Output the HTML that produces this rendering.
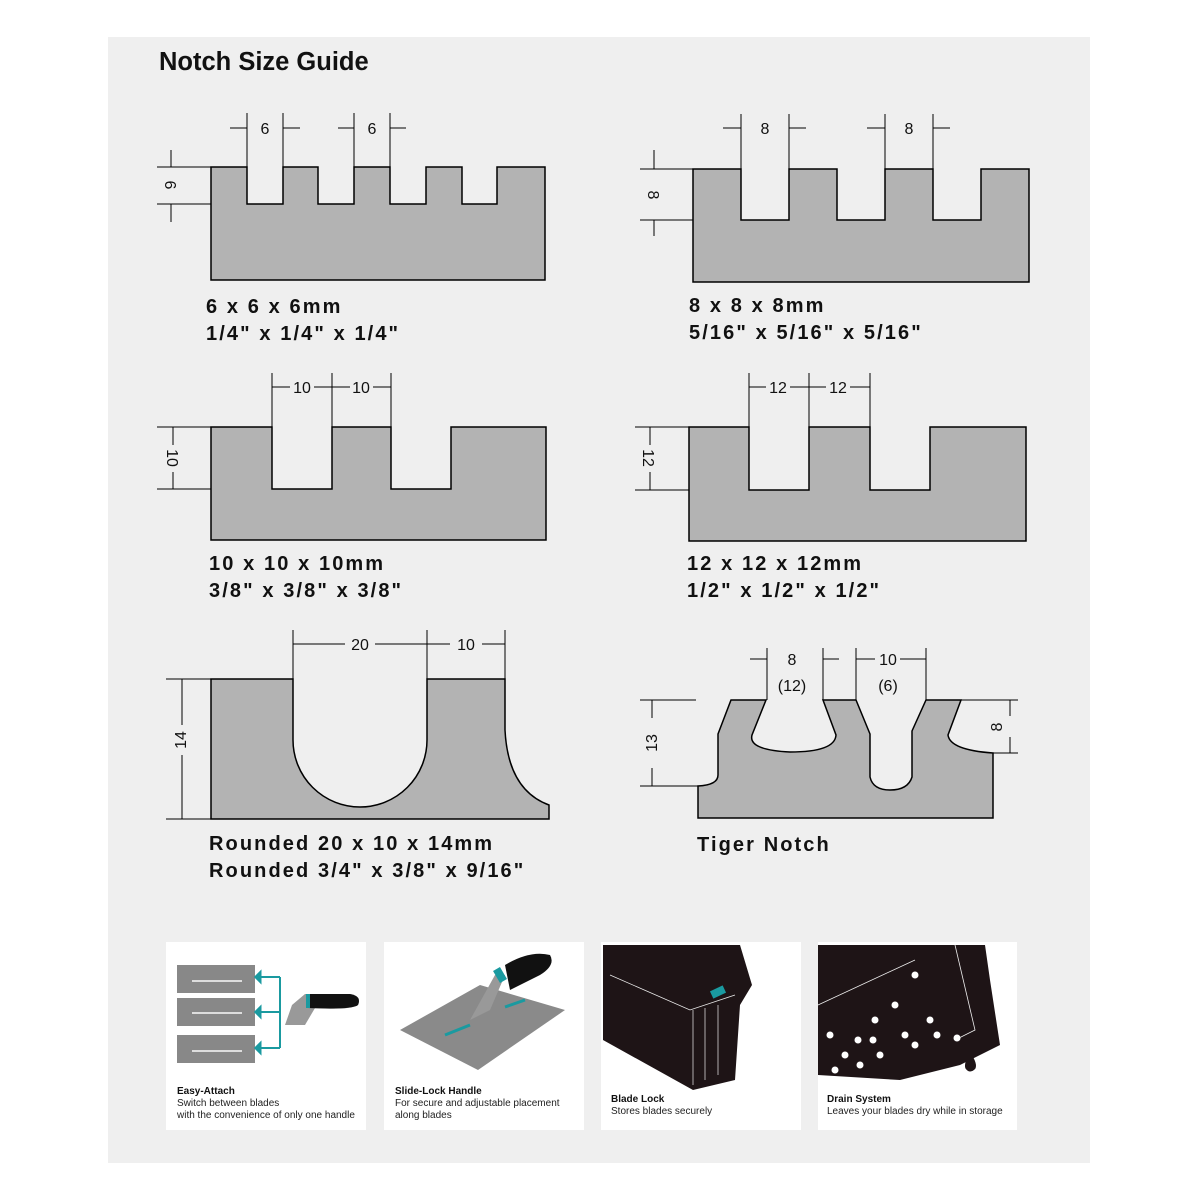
<!DOCTYPE html>
<html><head><meta charset="utf-8"><style>
body{margin:0;background:#fff;}
svg{display:block;font-family:"Liberation Sans",Arial,sans-serif;}
.s{fill:#b3b3b3;stroke:#000;stroke-width:1.5}
.d{stroke:#000;stroke-width:1;fill:none}
.t{font-size:16px;fill:#111}
.h{font-size:20px;font-weight:bold;fill:#111;letter-spacing:2.1px}
.c1{font-size:10px;font-weight:bold;fill:#111}
.c2{font-size:10px;fill:#222}
</style></head><body>
<svg width="1200" height="1200" viewBox="0 0 1200 1200">
<rect x="108" y="37" width="982" height="1126" fill="#efefef"/>
<text x="159" y="70" font-size="25.5" font-weight="bold" fill="#111">Notch Size Guide</text>

<!-- D1 -->
<path class="s" d="M211,167H247V204H283V167H318V204H354V167H390V204H426V167H462V204H497V167H545V280H211Z"/>
<path class="d" d="M247,113V167M283,113V167M354,113V167M390,113V167M230,128H247M283,128H300M338,128H354M390,128H406M157,167H211M157,204H211M171,150V167M171,204V222"/>
<text class="t" x="265" y="134" text-anchor="middle">6</text>
<text class="t" x="372" y="134" text-anchor="middle">6</text>
<text class="t" transform="translate(165,185) rotate(90)" text-anchor="middle">6</text>
<text class="h" x="206" y="313">6 x 6 x 6mm</text>
<text class="h" x="206" y="340">1/4" x 1/4" x 1/4"</text>

<!-- D2 -->
<path class="s" d="M693,169H741V220H789V169H837V220H885V169H933V220H981V169H1029V282H693Z"/>
<path class="d" d="M741,114V169M789,114V169M885,114V169M933,114V169M723,128H741M789,128H806M867,128H885M933,128H950M640,169H693M640,220H693M654,150V169M654,220V236"/>
<text class="t" x="765" y="134" text-anchor="middle">8</text>
<text class="t" x="909" y="134" text-anchor="middle">8</text>
<text class="t" transform="translate(648,195) rotate(90)" text-anchor="middle">8</text>
<text class="h" x="689" y="312">8 x 8 x 8mm</text>
<text class="h" x="689" y="339">5/16" x 5/16" x 5/16"</text>

<!-- D3 -->
<path class="s" d="M211,427H272V489H332V427H391V489H451V427H546V540H211Z"/>
<path class="d" d="M272,373V427M332,373V427M391,373V427M272,387H290M314,387H350M373,387H391M157,427H211M157,489H211M173,427V445M173,472V489"/>
<text class="t" x="302" y="393" text-anchor="middle">10</text>
<text class="t" x="361" y="393" text-anchor="middle">10</text>
<text class="t" transform="translate(167,458) rotate(90)" text-anchor="middle">10</text>
<text class="h" x="209" y="570">10 x 10 x 10mm</text>
<text class="h" x="209" y="597">3/8" x 3/8" x 3/8"</text>

<!-- D4 -->
<path class="s" d="M689,427H749V490H809V427H870V490H930V427H1026V541H689Z"/>
<path class="d" d="M749,373V427M809,373V427M870,373V427M749,387H766M790,387H826M850,387H870M635,427H689M635,490H689M650,427V445M650,472V490"/>
<text class="t" x="778" y="393" text-anchor="middle">12</text>
<text class="t" x="838" y="393" text-anchor="middle">12</text>
<text class="t" transform="translate(643,458) rotate(90)" text-anchor="middle">12</text>
<text class="h" x="687" y="570">12 x 12 x 12mm</text>
<text class="h" x="687" y="597">1/2" x 1/2" x 1/2"</text>

<!-- D5 -->
<path class="s" d="M211,679H293V740A67,67 0 0 0 427,740V679H505V730Q508,790 549,805V819H211Z"/>
<path class="d" d="M293,630V679M427,630V679M505,630V679M293,644H345M375,644H450M482,644H505M166,679H211M166,819H211M182,679V725M182,755V819"/>
<text class="t" x="360" y="650" text-anchor="middle">20</text>
<text class="t" x="466" y="650" text-anchor="middle">10</text>
<text class="t" transform="translate(186,740) rotate(-90)" text-anchor="middle">14</text>
<text class="h" x="209" y="850">Rounded 20 x 10 x 14mm</text>
<text class="h" x="209" y="877">Rounded 3/4" x 3/8" x 9/16"</text>

<!-- D6 -->
<path class="s" d="M698,818V786Q718,785 718,775V734L731,700H766L752,735Q748,750 790,752Q835,752 836,735L823,700H856L870,734V777Q873,790 890,790Q908,790 912,777V731L926,700H961L948,735Q950,750 993,753V818Z"/>
<path class="d" d="M767,648V700M823,648V700M856,648V700M926,648V700M750,659H767M823,659H839M856,659H875M900,659H926M640,700H696M640,786H698M652,700V718M652,768V786M961,700H1018M993,753H1018M1010,700V716M1010,737V753"/>
<text class="t" x="792" y="665" text-anchor="middle">8</text>
<text class="t" x="792" y="691" text-anchor="middle">(12)</text>
<text class="t" x="888" y="665" text-anchor="middle">10</text>
<text class="t" x="888" y="691" text-anchor="middle">(6)</text>
<text class="t" transform="translate(657,743) rotate(-90)" text-anchor="middle">13</text>
<text class="t" transform="translate(1002,727) rotate(-90)" text-anchor="middle">8</text>
<text class="h" x="697" y="851">Tiger Notch</text>

<!-- cards -->
<rect x="166" y="942" width="200" height="188" fill="#fff"/>
<rect x="384" y="942" width="200" height="188" fill="#fff"/>
<rect x="601" y="942" width="200" height="188" fill="#fff"/>
<rect x="818" y="942" width="199" height="188" fill="#fff"/>

<!-- card1 -->
<rect x="177" y="965" width="78" height="28" fill="#888"/>
<rect x="177" y="998" width="78" height="28" fill="#888"/>
<rect x="177" y="1035" width="78" height="28" fill="#888"/>
<path d="M192,981H242M192,1013H242M192,1051H242" stroke="#ddd" stroke-width="2"/>
<path d="M280,977V1048M260,977H280M260,1012H280M260,1048H280" stroke="#1a9aa0" stroke-width="2" fill="none"/>
<path d="M260,973L260,981L256,977ZM260,1008L260,1016L256,1012ZM260,1044L260,1052L256,1048Z" fill="#1a9aa0" stroke="#1a9aa0" stroke-width="3"/>
<path d="M292,1005L305,994H350Q362,996 358,1005Q352,1010 315,1008L305,1025H285Z" fill="#999"/>
<path d="M308,994H350Q362,996 358,1005Q352,1010 308,1008Z" fill="#111"/>
<rect x="306" y="994" width="4" height="14" fill="#1a9aa0"/>
<text class="c1" x="177" y="1094">Easy-Attach</text>
<text class="c2" x="177" y="1106">Switch between blades</text>
<text class="c2" x="177" y="1118">with the convenience of only one handle</text>

<!-- card2 -->
<path d="M400,1030L480,985L565,1010L478,1070Z" fill="#8a8a8a"/>
<path d="M470,1020L495,975L505,975L490,1010Z" fill="#999"/>
<path d="M505,965Q530,950 550,955Q556,965 540,975L510,990Z" fill="#111"/>
<rect x="496" y="968" width="8" height="14" fill="#1a9aa0" transform="rotate(-30 500 975)"/>
<path d="M445,1035L470,1025M505,1007L525,1000" stroke="#1a9aa0" stroke-width="3"/>
<text class="c1" x="395" y="1094">Slide-Lock Handle</text>
<text class="c2" x="395" y="1106">For secure and adjustable placement</text>
<text class="c2" x="395" y="1118">along blades</text>

<!-- card3 -->
<path d="M603,945H740L752,985L740,1005L735,1080L693,1090L603,1040Z" fill="#1e1416"/>
<rect x="711" y="988" width="14" height="8" fill="#1a9aa0" transform="rotate(-25 718 992)"/>
<path d="M610,975L690,1010L735,995M693,1010V1085M705,1008V1080M718,1005V1075" stroke="#eee" stroke-width="0.7" fill="none"/>
<text class="c1" x="611" y="1102">Blade Lock</text>
<text class="c2" x="611" y="1114">Stores blades securely</text>

<!-- card4 -->
<path d="M818,945H985L990,980L1000,1045L960,1065L900,1080L818,1075Z" fill="#1e1416"/>
<path d="M818,1005L915,960M955,945L975,1030L955,1040" stroke="#eee" stroke-width="0.8" fill="none"/>
<g fill="#fff">
<circle cx="830" cy="1035" r="3.5"/><circle cx="845" cy="1055" r="3.5"/><circle cx="858" cy="1040" r="3.5"/><circle cx="873" cy="1040" r="3.5"/><circle cx="875" cy="1020" r="3.5"/><circle cx="835" cy="1070" r="3.5"/><circle cx="860" cy="1065" r="3.5"/><circle cx="880" cy="1055" r="3.5"/><circle cx="895" cy="1005" r="3.5"/><circle cx="915" cy="975" r="3.5"/><circle cx="905" cy="1035" r="3.5"/><circle cx="915" cy="1045" r="3.5"/><circle cx="930" cy="1020" r="3.5"/><circle cx="937" cy="1035" r="3.5"/><circle cx="957" cy="1038" r="3.5"/>
</g>
<path d="M970,1055Q965,1065 967,1068Q970,1072 974,1068Q976,1064 970,1055Z" fill="#1e1416" stroke="#1e1416" stroke-width="3"/>
<text class="c1" x="827" y="1102">Drain System</text>
<text class="c2" x="827" y="1114">Leaves your blades dry while in storage</text>
</svg>
</body></html>
